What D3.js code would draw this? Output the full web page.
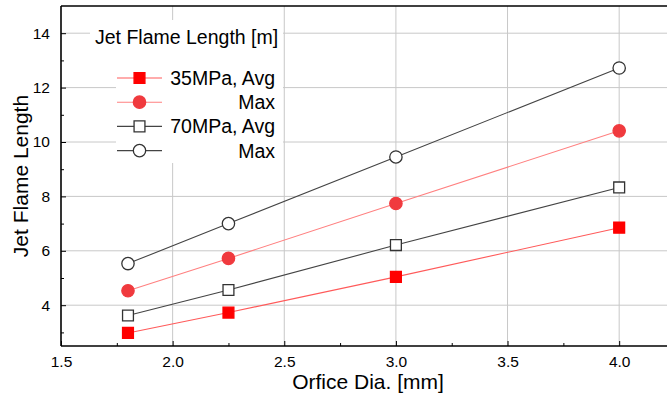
<!DOCTYPE html>
<html>
<head>
<meta charset="utf-8">
<script src="https://cdn.jsdelivr.net/npm/d3@7"></script>
<style>
  body { margin: 0; background: #fff; }
  svg { display: block; font-family: 'Liberation Sans', Arial, sans-serif; }
  .grid line { stroke: #c8c8c8; stroke-width: 1; }
  .axis path, .axis line { stroke: #000; }
  .axis path { stroke-width: 1.6; }
</style>
</head>
<body>
<div id="d3-target"></div>
<script>
// data
const orificeDia = [1.8, 2.25, 3.0, 4.0];
const avg35 = [2.98, 3.73, 5.04, 6.85];
const max35 = [4.53, 5.72, 7.74, 10.41];
const avg70 = [3.62, 4.56, 6.21, 8.33];
const max70 = [5.53, 7.0, 9.45, 12.72];

const xTicks = [1.5, 2.0, 2.5, 3.0, 3.5, 4.0];
const xMinorTicks = [1.75, 2.25, 2.75, 3.25, 3.75];
const yTicks = [4, 6, 8, 10, 12, 14];
const yMinorTicks = [3, 5, 7, 9, 11, 13];

const legendTitle = 'Jet Flame Length [m]';
const legendLabels = ['35MPa, Avg', 'Max', '70MPa, Avg', 'Max'];

const W = 667, H = 397;
const margin = {top: 6, right: -8, bottom: 51, left: 61},
  width = W - margin.left - margin.right,
  height = H - margin.top - margin.bottom;

const x = d3.scaleLinear()
  .domain([1.5, 4.25])
  .range([0, width]);

const y = d3.scaleLinear()
  .domain([2.5, 15])
  .range([height, 0]);

const series = [
  {vals: avg35, sym: 'square', fill: '#ff0000', stroke: '#ff0000', line: '#ff5a5a'},
  {vals: max35, sym: 'circle', fill: '#f03a3e', stroke: '#f03a3e', line: '#ff8080'},
  {vals: avg70, sym: 'square', fill: '#fff', stroke: '#333', line: '#444'},
  {vals: max70, sym: 'circle', fill: '#fff', stroke: '#333', line: '#444'}
];

const svgTop = d3.select('#d3-target')
  .append('svg')
  .attr('width', W)
  .attr('height', H);

svgTop.append('defs').append('clipPath')
  .attr('id', 'plot-clip')
  .append('rect')
  .attr('width', width)
  .attr('height', height);

const svg = svgTop.append('g')
  .attr('transform', `translate(${margin.left},${margin.top})`);

// grid
svg.append('g')
  .attr('class', 'grid')
  .selectAll('line.v')
  .data(xTicks.slice(1))
  .enter().append('line')
  .attr('x1', d => x(d)).attr('x2', d => x(d))
  .attr('y1', 0).attr('y2', height);

svg.append('g')
  .attr('class', 'grid')
  .selectAll('line.h')
  .data(yTicks)
  .enter().append('line')
  .attr('x1', 0).attr('x2', width)
  .attr('y1', d => y(d)).attr('y2', d => y(d));

// legend backgrounds hide the grid behind the legend text
svg.append('rect')
  .attr('x', 90 - margin.left).attr('y', 20 - margin.top)
  .attr('width', 193).attr('height', 32)
  .attr('fill', '#fff');
svg.append('rect')
  .attr('x', 116 - margin.left).attr('y', 52 - margin.top)
  .attr('width', 167).attr('height', 111)
  .attr('fill', '#fff');

// lines
const line = d3.line()
  .x((d, i) => x(orificeDia[i]))
  .y(d => y(d));

const plot = svg.append('g').attr('clip-path', 'url(#plot-clip)');

series.forEach(s => {
  plot.append('path')
    .datum(s.vals)
    .attr('fill', 'none')
    .attr('stroke', s.line)
    .attr('stroke-width', 1.1)
    .attr('d', line);
});

const symbolPath = (sym, size) => d3.symbol()
  .type(sym === 'square' ? d3.symbolSquare : d3.symbolCircle)
  .size(size)();

series.forEach(s => {
  plot.selectAll(null)
    .data(s.vals)
    .enter().append('path')
    .attr('d', symbolPath(s.sym, s.sym === 'square' ? 118 : 120))
    .attr('transform', (d, i) => `translate(${x(orificeDia[i])},${y(d)})`)
    .attr('fill', s.fill)
    .attr('stroke', s.stroke)
    .attr('stroke-width', 1.3);
});

// axes (ticks point inward)
const xAxis = d3.axisBottom(x)
  .tickValues(xTicks)
  .tickFormat(d3.format('.1f'))
  .tickSize(-5)
  .tickPadding(10);

const xMinor = d3.axisBottom(x)
  .tickValues(xMinorTicks)
  .tickFormat('')
  .tickSize(-3);

const yAxis = d3.axisLeft(y)
  .tickValues(yTicks)
  .tickFormat(d3.format('d'))
  .tickSize(-5)
  .tickPadding(11);

const yMinor = d3.axisLeft(y)
  .tickValues(yMinorTicks)
  .tickFormat('')
  .tickSize(-3);

const styleLabels = g => g
  .attr('font-size', 15.5)
  .attr('font-family', "'Liberation Sans', Arial, sans-serif")
  .selectAll('text').attr('fill', '#000');

svg.append('g')
  .attr('class', 'x axis')
  .attr('transform', `translate(0,${height})`)
  .call(xAxis)
  .call(styleLabels)
  .call(g => g.select('.domain').attr('d', `M0,0H${width}`));

svg.append('g')
  .attr('class', 'x axis minor')
  .attr('transform', `translate(0,${height})`)
  .call(xMinor)
  .call(g => g.select('.domain').remove());

svg.append('g')
  .attr('class', 'y axis')
  .call(yAxis)
  .call(styleLabels)
  .call(g => g.select('.domain').attr('d', `M0,0V${height}`));

svg.append('g')
  .attr('class', 'y axis minor')
  .call(yMinor)
  .call(g => g.select('.domain').remove());

// top frame line
svg.append('line')
  .attr('x1', 0).attr('x2', width)
  .attr('y1', 0).attr('y2', 0)
  .attr('stroke', '#000')
  .attr('stroke-width', 1.6);

// axis titles
svgTop.append('text')
  .attr('x', 368)
  .attr('y', 389)
  .attr('text-anchor', 'middle')
  .attr('font-size', 21)
  .attr('fill', '#000')
  .text('Orfice Dia. [mm]');

svgTop.append('text')
  .attr('transform', 'translate(28,176) rotate(-90)')
  .attr('text-anchor', 'middle')
  .attr('font-size', 21)
  .attr('fill', '#000')
  .text('Jet Flame Length');

// legend
const legend = svgTop.append('g').attr('class', 'legend');

legend.append('text')
  .attr('x', 95)
  .attr('y', 44)
  .attr('font-size', 19.5)
  .attr('fill', '#000')
  .text(legendTitle);

const rowY = i => 78 + i * 24.2;

const rows = legend.selectAll('.legend-line')
  .data(series)
  .enter().append('g')
  .attr('class', 'legend-line')
  .attr('transform', (d, i) => `translate(0,${rowY(i)})`);

rows.append('line')
  .attr('x1', 117).attr('x2', 162)
  .attr('y1', 0).attr('y2', 0)
  .attr('stroke', d => d.line)
  .attr('stroke-width', 1.1);

rows.append('path')
  .attr('transform', 'translate(139.5,0)')
  .attr('d', d => symbolPath(d.sym, d.sym === 'square' ? 118 : 120))
  .attr('fill', d => d.fill)
  .attr('stroke', d => d.stroke)
  .attr('stroke-width', 1.3);

rows.append('text')
  .attr('x', 275)
  .attr('y', 7)
  .attr('text-anchor', 'end')
  .attr('font-size', 19.5)
  .attr('fill', '#000')
  .text((d, i) => legendLabels[i]);
</script>
</body>
</html>
